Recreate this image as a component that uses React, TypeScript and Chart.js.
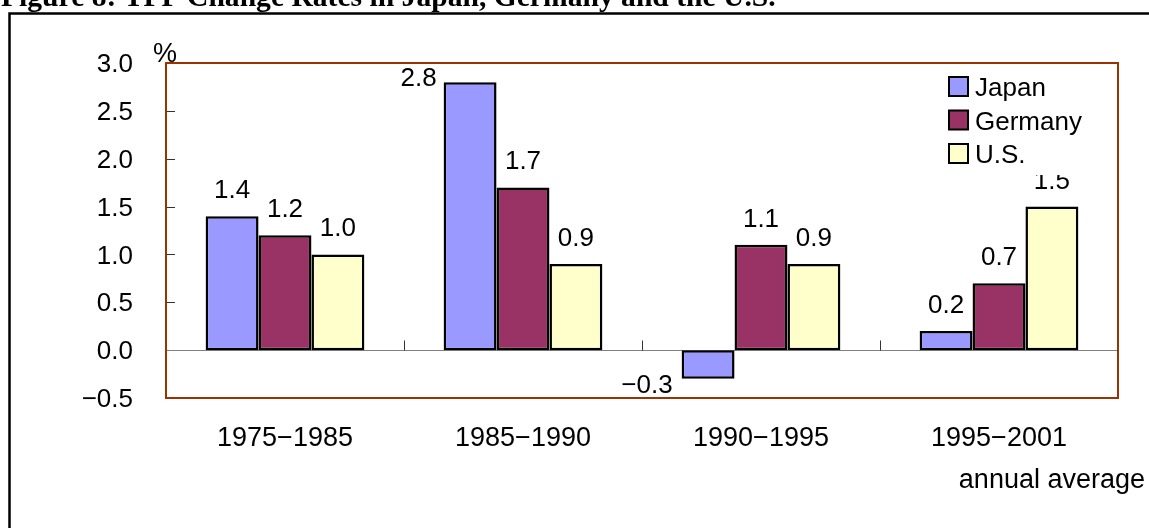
import React, { useEffect, useRef } from "react";
import { Chart, registerables } from "chart.js";

Chart.register(...registerables);

const categories = ["1975−1985", "1985−1990", "1990−1995", "1995−2001"];
const japan = [1.4, 2.8, -0.3, 0.2];
const germany = [1.2, 1.7, 1.1, 0.7];
const us = [1.0, 0.9, 0.9, 1.5];
const seriesNames = ["Japan", "Germany", "U.S."];
const seriesColors = ["#9999FF", "#993366", "#FFFFCC"];
const yMin = -0.5;
const yMax = 3.0;
const yStep = 0.5;
const titleText = "Figure 8: TFP Change Rates in Japan, Germany and the U.S.";
const unitText = "%";
const noteText = "annual average";

const SANS = "'Liberation Sans', Arial, sans-serif";
const SERIF = "'Liberation Serif', 'Times New Roman', serif";

const fmt = (v: number) => (v < 0 ? "−" : "") + Math.abs(v).toFixed(1);

const decorPlugin = {
  id: "decor",
  beforeDraw(chart: any) {
    const ctx = chart.ctx;
    const W = chart.width;
    const H = chart.height;
    ctx.save();
    ctx.fillStyle = "#ffffff";
    ctx.fillRect(0, 0, W, H);
    // title (cut at the top)
    ctx.fillStyle = "#000";
    ctx.font = `bold 29.6px ${SERIF}`;
    ctx.textAlign = "left";
    ctx.textBaseline = "alphabetic";
    ctx.fillText(titleText, 1, 6);
    // outer frame
    ctx.strokeStyle = "#000";
    ctx.lineWidth = 2.5;
    ctx.beginPath();
    ctx.moveTo(9.5, H + 5);
    ctx.lineTo(9.5, 13.5);
    ctx.lineTo(W + 5, 13.5);
    ctx.stroke();
    // unit and note
    const ca = chart.chartArea;
    ctx.font = `27px ${SANS}`;
    ctx.textAlign = "center";
    ctx.fillText(unitText, ca.left - 1, ca.top - 1);
    ctx.font = `27px ${SANS}`;
    ctx.textAlign = "right";
    ctx.fillText(noteText, W - 4, 488);
    ctx.restore();
  },
  beforeDatasetsDraw(chart: any) {
    const ctx = chart.ctx;
    const ca = chart.chartArea;
    const xs = chart.scales.x;
    const ys = chart.scales.y;
    ctx.save();
    // inward y ticks
    ctx.strokeStyle = "#333";
    ctx.lineWidth = 1;
    ys.ticks.forEach((t: any) => {
      const y = Math.round(ys.getPixelForValue(t.value)) + 0.5;
      ctx.beginPath();
      ctx.moveTo(ca.left, y);
      ctx.lineTo(ca.left + 9, y);
      ctx.stroke();
    });
    // zero line
    const y0 = Math.round(ys.getPixelForValue(0)) + 0.5;
    ctx.strokeStyle = "#808080";
    ctx.beginPath();
    ctx.moveTo(ca.left, y0);
    ctx.lineTo(ca.right, y0);
    ctx.stroke();
    // category boundary ticks
    ctx.strokeStyle = "#333";
    const n = categories.length;
    for (let k = 1; k <= n; k++) {
      const x = Math.round((xs.getPixelForValue(k - 1) + (k < n ? xs.getPixelForValue(k) : 2 * xs.getPixelForValue(k - 1) - xs.getPixelForValue(k - 2))) / 2) + 0.5;
      ctx.beginPath();
      ctx.moveTo(x, y0);
      ctx.lineTo(x, y0 - 10);
      ctx.stroke();
    }
    ctx.restore();
  },
  afterDatasetsDraw(chart: any) {
    const ctx = chart.ctx;
    const ca = chart.chartArea;
    ctx.save();
    // plot border
    ctx.strokeStyle = "#993300";
    ctx.lineWidth = 2;
    ctx.strokeRect(ca.left, ca.top, ca.right - ca.left, ca.bottom - ca.top);
    // data labels
    ctx.fillStyle = "#000";
    ctx.font = `26px ${SANS}`;
    const cap = 19;
    chart.data.datasets.forEach((ds: any, di: number) => {
      const meta = chart.getDatasetMeta(di);
      meta.data.forEach((bar: any, i: number) => {
        const v = ds.data[i];
        const txt = fmt(v);
        const left = bar.x - bar.width / 2;
        if (v >= 0) {
          const base = bar.y - 18;
          if (base - cap < ca.top + 2) {
            ctx.textAlign = "right";
            ctx.fillText(txt, left - 7, ca.top + 4 + cap);
          } else {
            ctx.textAlign = "center";
            ctx.fillText(txt, bar.x, base);
          }
        } else {
          const base = bar.y + 18 + cap;
          if (base > ca.bottom - 2) {
            ctx.textAlign = "right";
            ctx.fillText(txt, left - 9, ca.bottom - 5);
          } else {
            ctx.textAlign = "center";
            ctx.fillText(txt, bar.x, base);
          }
        }
      });
    });
    // legend
    const lx = ca.right - 169;
    const ly = ca.top + 14;
    ctx.fillStyle = "#fff";
    ctx.fillRect(lx - 4, ly - 8, 165, 106);
    chart.data.datasets.forEach((ds: any, di: number) => {
      const y = ly + di * 33.5;
      ctx.fillStyle = ds.backgroundColor;
      ctx.fillRect(lx, y, 19, 19);
      ctx.strokeStyle = "#000";
      ctx.lineWidth = 2;
      ctx.strokeRect(lx, y, 19, 19);
      ctx.fillStyle = "#000";
      ctx.textAlign = "left";
      ctx.font = `26px ${SANS}`;
      ctx.fillText(ds.label, lx + 26, y + 19);
    });
    ctx.restore();
  },
};

export default function App() {
  const ref = useRef<HTMLCanvasElement | null>(null);
  useEffect(() => {
    if (!ref.current) return;
    const seriesData = [japan, germany, us];
    const chart = new Chart(ref.current, {
      type: "bar",
      data: {
        labels: categories,
        datasets: seriesData.map((d, i) => ({
          label: seriesNames[i],
          data: d,
          backgroundColor: seriesColors[i],
          borderColor: "#000",
          borderWidth: 2.5,
          borderSkipped: false,
          categoryPercentage: 0.667,
          barPercentage: 1.0,
        })),
      },
      options: {
        responsive: false,
        animation: false,
        events: [],
        layout: { padding: { top: 63, right: 31, left: 0, bottom: 0 } },
        plugins: { legend: { display: false }, tooltip: { enabled: false }, title: { display: false } },
        scales: {
          x: {
            grid: { display: false, drawTicks: false },
            border: { display: false },
            ticks: { color: "#000", font: { family: SANS, size: 27 }, padding: 24, maxRotation: 0 },
            afterFit: (s: any) => { s.height = 130; },
          },
          y: {
            min: yMin,
            max: yMax,
            grid: { display: false, drawTicks: false },
            border: { display: false },
            ticks: {
              stepSize: yStep,
              color: "#000",
              font: { family: SANS, size: 26 },
              padding: 33,
              labelOffset: 2,
              callback: (v: any) => fmt(Number(v)),
            },
            afterFit: (s: any) => { s.width = 166; },
          },
        },
      },
      plugins: [decorPlugin],
    } as any);
    return () => chart.destroy();
  }, []);
  return (
    <div style={{ position: "absolute", left: 0, top: 0, width: 1149, height: 528 }}>
      <canvas ref={ref} width={1149} height={528} style={{ display: "block" }} />
    </div>
  );
}
